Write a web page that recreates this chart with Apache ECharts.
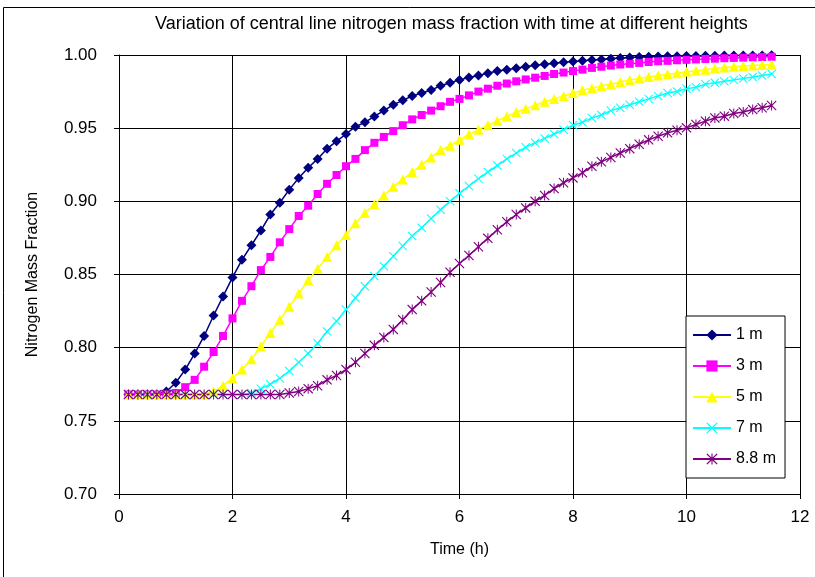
<!DOCTYPE html>
<html>
<head>
<meta charset="utf-8">
<script src="https://cdn.jsdelivr.net/npm/echarts@6/dist/echarts.min.js"></script>
<style>
  html, body { margin: 0; padding: 0; background: #fff; }
  #chart { width: 815px; height: 577px; }
</style>
</head>
<body>
<div id="chart"></div>
<script>
// Sampling step of the simulation output (minutes); first sample at 10 min.
const stepMinutes = 10;

const seriesNames = ['1 m', '3 m', '5 m', '7 m', '8.8 m'];

// Central-line nitrogen mass fraction, one value per 10-minute sample.
const n1m = [
  0.768, 0.768, 0.768, 0.768, 0.770, 0.776,
  0.785, 0.796, 0.808, 0.822, 0.835, 0.848,
  0.860, 0.870, 0.880, 0.891, 0.899, 0.908,
  0.916, 0.923, 0.929, 0.936, 0.941, 0.946,
  0.951, 0.954, 0.958, 0.962, 0.966, 0.969,
  0.972, 0.974, 0.976, 0.979, 0.981, 0.983,
  0.9846, 0.986, 0.9876, 0.989, 0.990, 0.991,
  0.992, 0.993, 0.9936, 0.9943, 0.995, 0.9955,
  0.996, 0.9966, 0.997, 0.9975, 0.998, 0.9983,
  0.9986, 0.9988, 0.999, 0.9991, 0.9992, 0.9993,
  0.9994, 0.9995, 0.9995, 0.9996, 0.9996, 0.9997,
  0.9997, 0.9997, 0.9998
];
const n3m = [
  0.768, 0.768, 0.768, 0.768, 0.768, 0.769,
  0.773, 0.778, 0.787, 0.797, 0.808, 0.820,
  0.832, 0.842, 0.853, 0.862, 0.872, 0.881,
  0.890, 0.897, 0.905, 0.912, 0.918, 0.924,
  0.929, 0.935, 0.940, 0.944, 0.948, 0.952,
  0.956, 0.959, 0.962, 0.965, 0.968, 0.970,
  0.9724, 0.975, 0.977, 0.979, 0.9805, 0.982,
  0.9833, 0.9845, 0.9857, 0.987, 0.988, 0.989,
  0.990, 0.9912, 0.992, 0.9928, 0.9935, 0.994,
  0.9946, 0.9952, 0.9957, 0.996, 0.9964, 0.9967,
  0.997, 0.9973, 0.9975, 0.9978, 0.998, 0.9982,
  0.9984, 0.9986, 0.9988
];
const n5m = [
  0.768, 0.768, 0.768, 0.768, 0.768, 0.768,
  0.768, 0.768, 0.768, 0.770, 0.774, 0.779,
  0.785, 0.792, 0.801, 0.810, 0.819, 0.828,
  0.837, 0.846, 0.854, 0.862, 0.870, 0.877,
  0.885, 0.892, 0.898, 0.904, 0.910, 0.915,
  0.920, 0.925, 0.930, 0.935, 0.938, 0.942,
  0.9457, 0.949, 0.952, 0.955, 0.958, 0.961,
  0.9633, 0.9656, 0.968, 0.970, 0.972, 0.974,
  0.976, 0.9773, 0.9789, 0.980, 0.9815, 0.983,
  0.984, 0.985, 0.986, 0.9868, 0.9876, 0.9885,
  0.9893, 0.990, 0.9907, 0.9914, 0.992, 0.9924,
  0.9928, 0.9932, 0.9935
];
const n7m = [
  0.768, 0.768, 0.768, 0.768, 0.768, 0.768,
  0.768, 0.768, 0.768, 0.768, 0.768, 0.768,
  0.768, 0.769, 0.772, 0.775, 0.779, 0.784,
  0.790, 0.796, 0.803, 0.811, 0.818, 0.826,
  0.834, 0.842, 0.849, 0.8556, 0.8625, 0.8695,
  0.8763, 0.882, 0.8883, 0.8943, 0.900, 0.9055,
  0.9105, 0.9155, 0.920, 0.9245, 0.929, 0.933,
  0.937, 0.940, 0.943, 0.946, 0.949, 0.952,
  0.954, 0.957, 0.959, 0.962, 0.964, 0.966,
  0.968, 0.970, 0.972, 0.974, 0.975, 0.977,
  0.978, 0.980, 0.981, 0.982, 0.983, 0.984,
  0.985, 0.986, 0.987
];
const n88m = [
  0.768, 0.768, 0.768, 0.768, 0.768, 0.768,
  0.768, 0.768, 0.768, 0.768, 0.768, 0.768,
  0.768, 0.768, 0.768, 0.768, 0.768, 0.769,
  0.770, 0.772, 0.774, 0.778, 0.781, 0.785,
  0.790, 0.796, 0.8016, 0.807, 0.8125, 0.819,
  0.826, 0.832, 0.838, 0.8445, 0.8515, 0.8575,
  0.863, 0.869, 0.8747, 0.8806, 0.886, 0.891,
  0.8955, 0.900, 0.904, 0.9087, 0.9127, 0.916,
  0.9195, 0.924, 0.927, 0.930, 0.933, 0.936,
  0.939, 0.942, 0.9445, 0.9468, 0.9486, 0.9502,
  0.9525, 0.9548, 0.957, 0.9582, 0.960, 0.961,
  0.9627, 0.964, 0.9655
];

const xTicks = [0, 2, 4, 6, 8, 10, 12];
const yTicks = [0.70, 0.75, 0.80, 0.85, 0.90, 0.95, 1.00];

// Marker shapes: thin "x" cross and "x" with a vertical bar (asterisk)
const crossPath = 'path://M0,8 L8,0 L50,42 L92,0 L100,8 L58,50 L100,92 L92,100 L50,58 L8,100 L0,92 L42,50 Z';
const starPath = 'path://M0,8 L8,0 L50,42 L92,0 L100,8 L58,50 L100,92 L92,100 L50,58 L8,100 L0,92 L42,50 Z M45,0 L55,0 L55,100 L45,100 Z';

const styles = [
  { color: '#000080', symbol: 'diamond', size: 10 },
  { color: '#FF00FF', symbol: 'rect', size: 8 },
  { color: '#FFFF00', symbol: 'triangle', size: 10 },
  { color: '#00FFFF', symbol: crossPath, size: 9 },
  { color: '#800080', symbol: starPath, size: 10 }
];

const values = [n1m, n3m, n5m, n7m, n88m];
const toPairs = arr => arr.map((v, i) => [(i + 1) * stepMinutes / 60, v]);

const FONT = 'Liberation Sans, Arial, sans-serif';

const chart = echarts.init(document.getElementById('chart'));
chart.setOption({
  backgroundColor: '#fff',
  animation: false,
  title: {
    text: 'Variation of central line nitrogen mass fraction with time at different heights',
    left: 150,
    top: 10,
    textStyle: { fontFamily: FONT, fontSize: 18, fontWeight: 'normal', color: '#000' }
  },
  graphic: [{
    type: 'rect',
    shape: { x: 3.5, y: 7.5, width: 900, height: 700 },
    style: { fill: 'none', stroke: '#000', lineWidth: 1 },
    silent: true
  }],
  legend: {
    orient: 'vertical',
    left: 686,
    top: 316,
    padding: [10, 9, 10, 6],
    itemWidth: 38,
    itemHeight: 14,
    itemGap: 13,
    backgroundColor: '#fff',
    borderColor: '#000',
    borderWidth: 1,
    borderRadius: 0,
    textStyle: { fontFamily: FONT, fontSize: 16, color: '#000', lineHeight: 18 },
    data: seriesNames
  },
  grid: { left: 119, right: 15, top: 55, bottom: 83, containLabel: false },
  xAxis: {
    type: 'value',
    min: xTicks[0],
    max: xTicks[xTicks.length - 1],
    interval: xTicks[1] - xTicks[0],
    name: 'Time (h)',
    nameLocation: 'middle',
    nameGap: 48,
    nameTextStyle: { fontFamily: FONT, fontSize: 16, color: '#000' },
    axisLine: { show: true, lineStyle: { color: '#000', width: 1 } },
    axisTick: { show: true, inside: false, length: 5, lineStyle: { color: '#000' } },
    axisLabel: { fontFamily: FONT, fontSize: 17, color: '#000', margin: 15 },
    splitLine: { show: true, lineStyle: { color: '#000', width: 1 } }
  },
  yAxis: {
    type: 'value',
    min: yTicks[0],
    max: yTicks[yTicks.length - 1],
    interval: 0.05,
    name: 'Nitrogen Mass Fraction',
    nameLocation: 'middle',
    nameGap: 78,
    nameRotate: 90,
    nameTextStyle: { fontFamily: FONT, fontSize: 16, color: '#000' },
    axisLine: { show: true, lineStyle: { color: '#000', width: 1 } },
    axisTick: { show: true, inside: false, length: 5, lineStyle: { color: '#000' } },
    axisLabel: { fontFamily: FONT, fontSize: 17, color: '#000', margin: 22, formatter: v => v.toFixed(2) },
    splitLine: { show: true, lineStyle: { color: '#000', width: 1 } }
  },
  series: seriesNames.map((name, i) => ({
    name,
    type: 'line',
    data: toPairs(values[i]),
    symbol: styles[i].symbol,
    symbolSize: styles[i].size,
    showAllSymbol: true,
    clip: false,
    lineStyle: { color: styles[i].color, width: 1.5 },
    itemStyle: { color: styles[i].color, borderWidth: 0 }
  }))
});
</script>
</body>
</html>
